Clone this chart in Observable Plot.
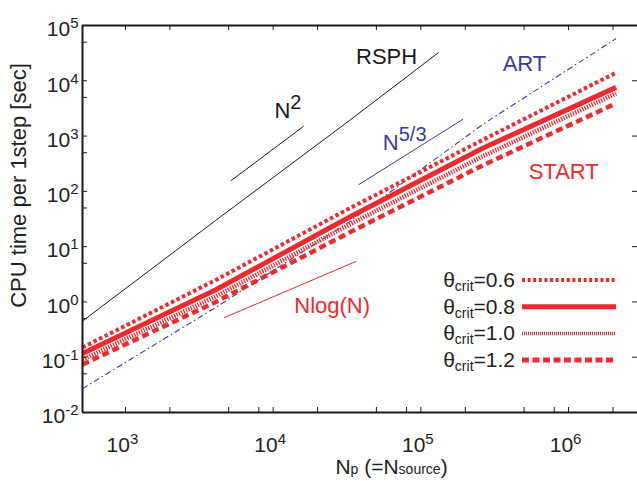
<!DOCTYPE html>
<html><head><meta charset="utf-8">
<script src="https://cdn.jsdelivr.net/npm/d3@7"></script>
<script src="https://cdn.jsdelivr.net/npm/@observablehq/plot@0.6"></script>
<style>html,body{margin:0;padding:0;background:#fff;overflow:hidden}</style>
</head><body><div id="chart"></div>
<script>
// ---- data ----
const N = [512, 4096, 32768, 262144, 2097152];
const startTheta06 = [0.15, 2.5, 49, 850, 14000];
const startTheta08 = [0.117, 1.66, 34, 600, 7600];
const startTheta10 = [0.091, 1.26, 25, 430, 5900];
const startTheta12 = [0.074, 1.0, 18, 295, 3900];
const artTime = [0.027, 0.8, 28, 1620, 58000];
const rsphN = [512, 4096, 32768, 131072];
const rsphTime = [0.45, 30, 1900, 32000];
const refN2X = [5200, 16000], refN2Y = [157, 1490];
const refN53X = [38100, 192000], refN53Y = [133, 2000];
const refNlogNX = [4670, 36400], refNlogNY = [0.52, 5.4];
const thetaLabels = ["0.6", "0.8", "1.0", "1.2"];
const xMajor = [1e3, 1e4, 1e5, 1e6];
const xMinorTop = [2e3, 5e3, 2e4, 5e4, 2e5, 5e5, 2e6];
const xMinorBottom = [2e3, 5e3, 8e3, 2e4, 5e4, 8e4, 2e5, 5e5, 8e5, 2e6];
const yMajorExp = [-2, -1, 0, 1, 2, 3, 4, 5];
const yMinor = [0.05, 0.5, 5, 50, 500, 5e3, 5e4];
const annotations = [
  {x: 36400, y: 26900, text: "RSPH", color: "#1a1a1a"},
  {x: 10200, y: 2840, text: "N^2", color: "#1a1a1a"},
  {x: 358000, y: 20100, text: "ART", color: "#3b3ba6"},
  {x: 55300, y: 750, text: "N^5/3", color: "#3b3ba6"},
  {x: 537000, y: 224, text: "START", color: "#ec2a2f"},
  {x: 13900, y: 0.83, text: "Nlog(N)", color: "#ec2a2f"}
];

const RED = "#ec2a2f", BLUE = "#3b3ba6", BLACK = "#1a1a1a", TXT = "#222";
const W = 637, H = 481, mL = 82, mR = 0, mT = 25, mB = 69;
const innerW = W - mL - mR, innerH = H - mT - mB;
const pts = (xs, ys) => xs.map((x, i) => ({x, y: ys[i]}));
const yMajor = yMajorExp.map(e => Math.pow(10, e));
const yMajorInner = yMajor.slice(1, -1);
const TL = 5;

const styles = [
  {ys: startTheta06, w: 4, dash: "3.5,2.7"},
  {ys: startTheta08, w: 5, dash: null},
  {ys: startTheta10, w: 4.5, dash: "1.3,1.3"},
  {ys: startTheta12, w: 4.5, dash: "7,4"}
];

const marks = [
  Plot.line(pts(refN2X, refN2Y), {x: "x", y: "y", stroke: BLACK, strokeWidth: 1}),
  Plot.line(pts(refN53X, refN53Y), {x: "x", y: "y", stroke: BLUE, strokeWidth: 1}),
  Plot.line(pts(refNlogNX, refNlogNY), {x: "x", y: "y", stroke: RED, strokeWidth: 1}),
  Plot.line(pts(rsphN, rsphTime), {x: "x", y: "y", stroke: BLACK, strokeWidth: 1}),
  Plot.line(pts(N, artTime), {x: "x", y: "y", stroke: BLUE, strokeWidth: 1.1, strokeDasharray: "6,3,1.5,3", strokeLinecap: "butt"}),
  ...styles.map(s => Plot.line(pts(N, s.ys), {x: "x", y: "y", stroke: RED, strokeWidth: s.w,
     strokeDasharray: s.dash || undefined, strokeLinecap: "butt", strokeLinejoin: "miter"})),
  Plot.ruleX([512], {stroke: BLACK, strokeWidth: 2}),
  Plot.ruleY([1e5], {stroke: BLACK, strokeWidth: 2}),
  Plot.ruleY([0.01], {stroke: BLACK, strokeWidth: 2}),
  Plot.ruleX(xMajor.concat(xMinorBottom), {x: d => d, insetTop: innerH - TL, stroke: BLACK}),
  Plot.ruleX(xMajor.concat(xMinorTop), {x: d => d, insetBottom: innerH - TL, stroke: BLACK}),
  Plot.ruleY(yMajorInner.concat(yMinor), {y: d => d, insetRight: innerW - TL, stroke: BLACK}),
  Plot.ruleY(yMajorInner, {y: d => d, insetLeft: innerW - TL, stroke: BLACK}),
  Plot.text(yMajorExp, {y: e => Math.pow(10, e), text: e => "10^" + e, frameAnchor: "left",
     textAnchor: "end", lineAnchor: "middle", dx: -4, dy: 4, fontSize: 21, fill: TXT}),
  Plot.text(xMajor, {x: d => d, text: d => "10^" + Math.round(Math.log10(d)), frameAnchor: "bottom",
     textAnchor: "middle", lineAnchor: "top", dx: -3, dy: 25, fontSize: 21, fill: TXT}),
  Plot.text(["CPU time per 1step [sec]"], {text: d => d, frameAnchor: "left", rotate: -90,
     textAnchor: "middle", lineAnchor: "middle",
     dx: 18.5 - mL, dy: 185 - (mT + innerH / 2), fontSize: 22, fill: TXT}),
  Plot.text(["N{p} (=N{source})"], {text: d => d, frameAnchor: "bottom", textAnchor: "middle",
     lineAnchor: "bottom", dx: 391 - (mL + innerW / 2), dy: 61, fontSize: 21, fill: TXT}),
  Plot.text(annotations, {x: "x", y: "y", text: "text", fill: "color", textAnchor: "start",
     lineAnchor: "middle", fontSize: 22})
];

const svg = Plot.plot({
  width: W, height: H, marginLeft: mL, marginRight: mR, marginTop: mT, marginBottom: mB,
  x: {type: "log", domain: [512, 2.93e6], axis: null},
  y: {type: "log", domain: [0.01, 1e5], axis: null},
  color: {type: "identity"},
  style: {fontFamily: "'Liberation Sans', Arial, Helvetica, sans-serif", background: "#fff", overflow: "visible"},
  marks
});

const NS = "http://www.w3.org/2000/svg";
svg.querySelectorAll("text").forEach(t => {
  if (t.querySelector("tspan")) return;
  const s = t.textContent;
  const i = s.indexOf("^");
  if (i >= 0) {
    const isTick = s.startsWith("10^");
    t.textContent = s.slice(0, i);
    const ts = document.createElementNS(NS, "tspan");
    ts.setAttribute("font-size", isTick ? 15 : 20);
    ts.setAttribute("dy", isTick ? -8 : -9);
    ts.textContent = s.slice(i + 1);
    t.appendChild(ts);
  } else if (s.indexOf("{") >= 0) {
    t.textContent = "";
    s.split(/(\{[^}]*\})/).filter(p => p.length).forEach(p => {
      const ts = document.createElementNS(NS, "tspan");
      if (p[0] === "{") { ts.setAttribute("font-size", 14); ts.textContent = p.slice(1, -1); }
      else ts.textContent = p;
      t.appendChild(ts);
    });
  }
});

// legend inside the plot area
const legendStyles = [
  {w: 4, dash: "3,2.6"},
  {w: 5, dash: null},
  {w: 3.5, dash: "1,1"},
  {w: 5, dash: "7,3.5"}
];
const lg = d3.select(svg).append("g").attr("font-family", "'Liberation Sans', Arial, sans-serif");
thetaLabels.forEach((lab, i) => {
  const cy = 280 + i * 26.7;
  const t = lg.append("text").attr("x", 515).attr("y", cy + 7).attr("text-anchor", "end")
    .attr("font-size", 21).attr("fill", TXT);
  t.append("tspan").text("θ");
  t.append("tspan").attr("font-size", 14).attr("dy", 4).text("crit");
  t.append("tspan").attr("dy", -4).text("=" + lab);
  const ln = lg.append("line").attr("x1", 522).attr("x2", 616).attr("y1", cy).attr("y2", cy)
    .attr("stroke", RED).attr("stroke-width", legendStyles[i].w);
  if (legendStyles[i].dash) ln.attr("stroke-dasharray", legendStyles[i].dash);
});

document.getElementById("chart").appendChild(svg);
</script>
</body></html>
